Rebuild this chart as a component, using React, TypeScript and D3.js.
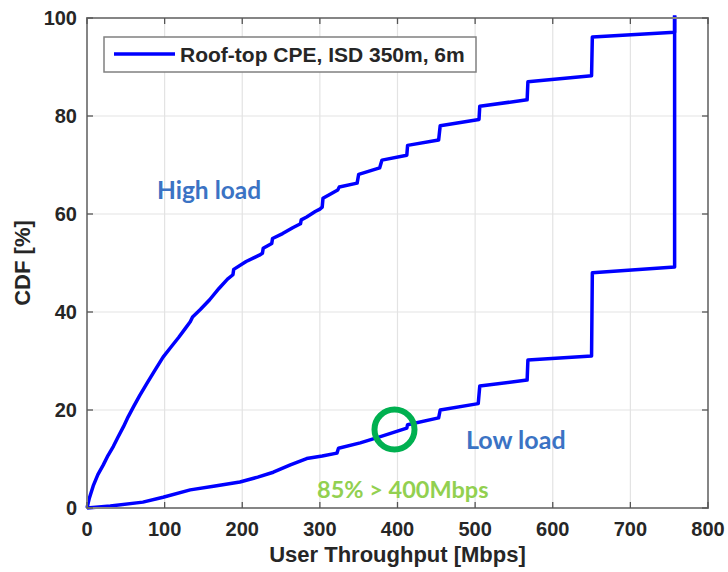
import React from 'react'
import * as d3 from 'd3'

// high load CDF (throughput in Mbps, CDF in %)
const highLoadThroughput = [0, 3, 8, 14, 21, 27, 34, 40, 47, 53, 60, 68, 77, 87, 98, 108, 118, 126, 133, 136, 146, 158, 170, 181, 188, 189, 205, 222, 226, 227, 238, 239, 252, 265, 275, 276, 283, 294, 300, 303, 304, 315, 323, 325, 348, 350, 377, 380, 412, 413, 453, 455, 505, 506, 567, 568, 650, 651, 757, 757]
const highLoadCdf = [0, 2, 4.5, 6.8, 8.8, 10.7, 12.6, 14.5, 16.6, 18.6, 20.7, 23, 25.4, 28, 30.8, 32.8, 34.8, 36.5, 38, 39, 40.5, 42.5, 44.8, 46.7, 47.6, 48.7, 50.3, 51.6, 52, 53, 54, 55, 56, 57.2, 58, 58.8, 59.4, 60.5, 61, 61.4, 63.2, 64.2, 64.9, 65.5, 66.3, 68.1, 69.4, 71, 72, 74, 75.1, 78, 79.3, 82, 83.3, 87, 88.2, 96.1, 97.1, 100.5]

// low load CDF
const lowLoadThroughput = [0, 30, 72, 98, 133, 165, 197, 220, 240, 262, 283, 303, 322, 324, 352, 377, 412, 413, 453, 455, 504, 506, 567, 568, 650, 651, 757, 757]
const lowLoadCdf = [0, 0.4, 1.2, 2.2, 3.7, 4.5, 5.3, 6.3, 7.3, 8.8, 10.1, 10.6, 11.2, 12.2, 13.3, 14.5, 16.3, 17, 18.4, 20, 21.3, 24.9, 26.1, 30.2, 31, 48, 49.2, 100.5]

const xTicks = [0, 100, 200, 300, 400, 500, 600, 700, 800]
const yTicks = [0, 20, 40, 60, 80, 100]

const legendLabel = 'Roof-top CPE, ISD 350m, 6m'

const W = 728
const H = 572
const margin = { top: 18, right: 20, bottom: 64, left: 87 }
const axisFont = '"Liberation Sans", Arial, sans-serif'
const noteFont = 'Lato, "Open Sans", sans-serif'

export default function App() {
  const width = W - margin.left - margin.right
  const height = H - margin.top - margin.bottom

  const x = d3.scaleLinear().domain([0, 800]).range([0, width])
  const y = d3.scaleLinear().domain([0, 100]).range([height, 0])

  const path = (xs: number[], ys: number[]) =>
    d3
      .line<number>()
      .x((d) => x(d))
      .y((_, i) => y(ys[i]))(xs) || ''

  return (
    <svg width={W} height={H} style={{ position: 'absolute', left: 0, top: 0, background: '#fff' }}>
      <g transform={`translate(${margin.left},${margin.top})`}>
        {/* grid */}
        {xTicks.map((t) => (
          <line key={'gx' + t} x1={x(t)} x2={x(t)} y1={0} y2={height} stroke="#e3e3e3" strokeWidth={1.2} />
        ))}
        {yTicks.map((t) => (
          <line key={'gy' + t} x1={0} x2={width} y1={y(t)} y2={y(t)} stroke="#e3e3e3" strokeWidth={1.2} />
        ))}

        {/* curves */}
        <path d={path(highLoadThroughput, highLoadCdf)} fill="none" stroke="#0000ff" strokeWidth={3.5} strokeLinejoin="round" />
        <path d={path(lowLoadThroughput, lowLoadCdf)} fill="none" stroke="#0000ff" strokeWidth={3.5} strokeLinejoin="round" />

        {/* box + inner ticks */}
        <rect x={0} y={0} width={width} height={height} fill="none" stroke="#858585" strokeWidth={2} />
        {xTicks.map((t) => (
          <g key={'tx' + t} stroke="#555">
            <line x1={x(t)} x2={x(t)} y1={height} y2={height - 6} strokeWidth={1.3} />
            <line x1={x(t)} x2={x(t)} y1={0} y2={6} strokeWidth={1.3} />
          </g>
        ))}
        {yTicks.map((t) => (
          <g key={'ty' + t} stroke="#555">
            <line x1={0} x2={6} y1={y(t)} y2={y(t)} strokeWidth={1.3} />
            <line x1={width} x2={width - 6} y1={y(t)} y2={y(t)} strokeWidth={1.3} />
          </g>
        ))}

        {/* tick labels */}
        {xTicks.map((t) => (
          <text key={'lx' + t} x={x(t)} y={height + 28} textAnchor="middle" fontFamily={axisFont} fontWeight="bold" fontSize={20} fill="#262626">
            {t}
          </text>
        ))}
        {yTicks.map((t) => (
          <text key={'ly' + t} x={-10} y={y(t)} dy="0.35em" textAnchor="end" fontFamily={axisFont} fontWeight="bold" fontSize={20} fill="#262626">
            {t}
          </text>
        ))}

        {/* legend */}
        <rect x={17} y={19} width={372} height={35} fill="#fff" stroke="#808080" strokeWidth={1.5} />
        <line x1={27} x2={88} y1={36} y2={36} stroke="#0000ff" strokeWidth={3.5} />
        <text x={93} y={43.5} fontFamily={axisFont} fontWeight="bold" fontSize={21} fill="#262626">
          {legendLabel}
        </text>

        {/* annotations */}
        <text x={70} y={181} fontFamily={noteFont} fontWeight="bold" fontSize={24.5} fill="#3b73c4">
          High load
        </text>
        <text x={379} y={431} fontFamily={noteFont} fontWeight="bold" fontSize={25} fill="#3b73c4">
          Low load
        </text>
        <text x={230} y={480} fontFamily={noteFont} fontWeight="bold" fontSize={23.5} fill="#92d050">
          85% &gt; 400Mbps
        </text>
        <circle cx={x(400) - 3} cy={y(16)} r={20} fill="none" stroke="#00b050" strokeWidth={6} />
      </g>

      {/* axis labels */}
      <text x={margin.left + width / 2} y={H - 10} textAnchor="middle" fontFamily={axisFont} fontWeight="bold" fontSize={22} fill="#262626">
        User Throughput [Mbps]
      </text>
      <text transform={`translate(30,${margin.top + height / 2}) rotate(-90)`} textAnchor="middle" fontFamily={axisFont} fontWeight="bold" fontSize={22} fill="#262626">
        CDF [%]
      </text>
    </svg>
  )
}
